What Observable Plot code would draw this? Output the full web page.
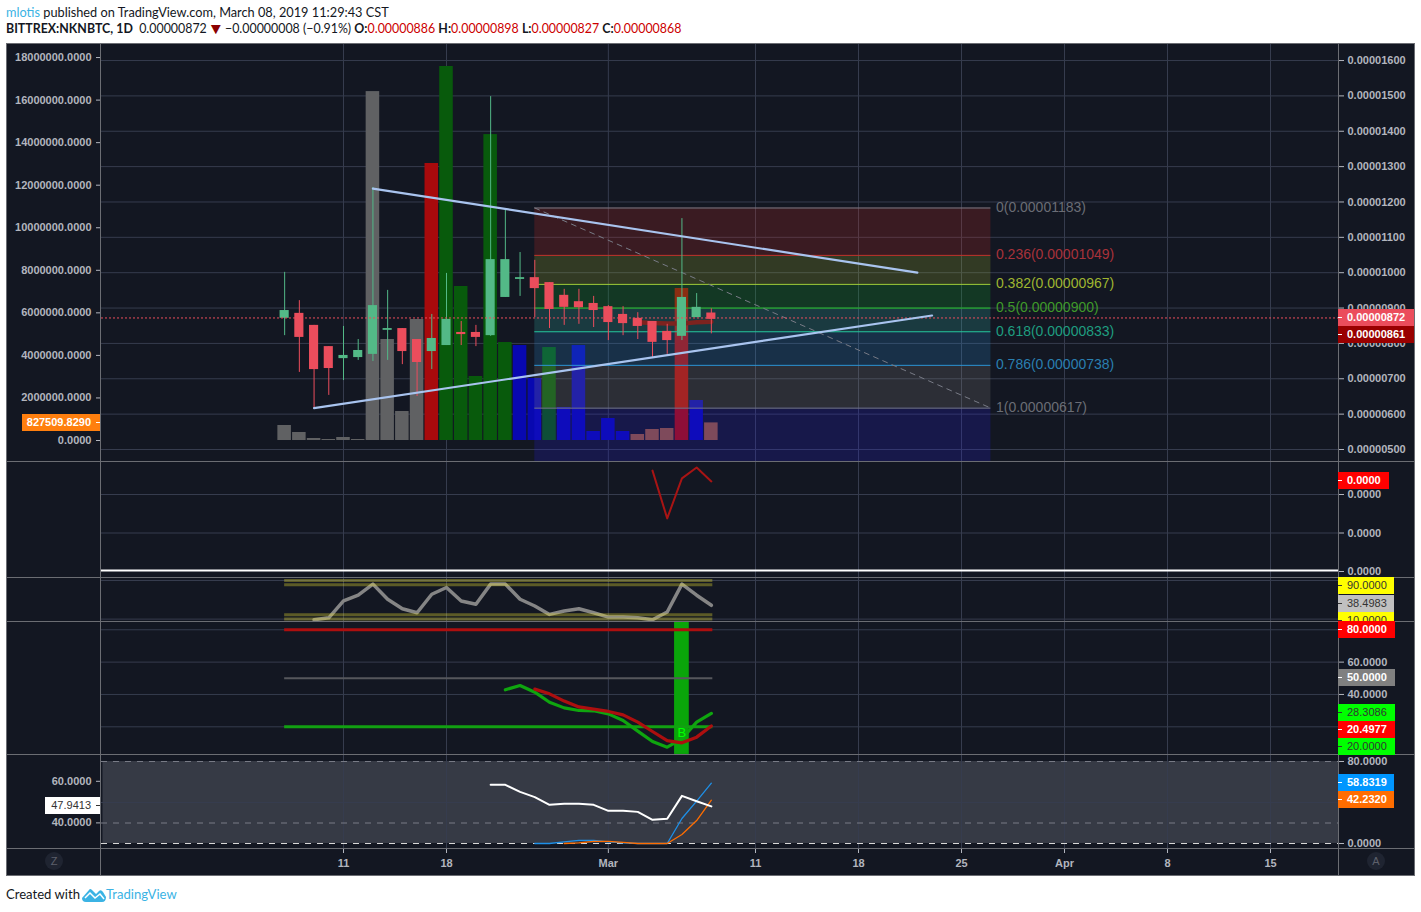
<!DOCTYPE html>
<html>
<head>
<meta charset="utf-8">
<script src="https://cdn.jsdelivr.net/npm/d3@7"></script>
<script src="https://cdn.jsdelivr.net/npm/@observablehq/plot@0.6"></script>
<style>
html,body{margin:0;padding:0;background:#fff;width:1421px;height:912px;overflow:hidden}
#root{position:absolute;left:0;top:0;width:1421px;height:912px}
.hdr{position:absolute;left:6px;font-family:Lato,"Open Sans",sans-serif;font-size:12.75px;white-space:nowrap;color:#131722;line-height:16px}
.badge{position:absolute;height:17px;box-sizing:border-box;white-space:nowrap}
.line{position:absolute;background:#6b6d73}
.circle{position:absolute;width:18px;height:18px;border-radius:9px;background:#1f2431;color:#5d606b;font:11px/18px "Liberation Sans",Arial,sans-serif;text-align:center}
</style>
</head>
<body>
<div id="root"></div>
<script>
// ---------- data ----------
const firstDay = Date.UTC(2019,1,7);
const dayMs = 864e5;
const tickDays = ["2019-02-11","2019-02-18","2019-03-01","2019-03-11","2019-03-18","2019-03-25","2019-04-01","2019-04-08","2019-04-15"];
// candles, in 1e-8 BTC, one per day from 7 Feb
const opens  = [871,885,851,791,757,760,769,837,842,811,777,794,831,831,822,930,981,986,972,936,918,913,904,882,871,862,834,820,873,886];
const closes = [893,817,726,729,766,780,907,842,777,746,814,868,825,817,1037,1037,986,955,896,902,901,893,859,856,848,803,808,930,902,868];
const highs  = [1001,921,851,791,848,811,1241,950,842,811,882,998,862,851,1498,1181,1057,1035,972,953,953,933,907,904,887,862,854,1153,941,898];
const lows   = [822,718,617,653,695,752,749,752,740,650,726,794,794,791,820,930,933,873,842,851,854,845,808,822,811,760,769,808,873,827];
// volume in millions
const volumes = [0.705,0.376,0.094,0.047,0.141,0.047,16.40,4.747,1.363,5.687,13.02,17.58,7.239,3.008,14.38,4.606,4.465,2.914,4.371,1.551,4.465,0.423,1.034,0.423,0.282,0.517,0.564,7.145,1.880,0.8275];
const volumeKinds = ["n","n","n","n","n","n","n","n","n","n","r","g","g","g","g","g","b","b","g","b","b","b","b","b","o","o","o","r","b","o"];
const volumeColors = {n:"#606163",r:"#a80a0c",g:"#085a0c",b:"#0808b0",o:"#945538"};
const priceTicks = [500,600,700,800,900,1000,1100,1200,1300,1400,1500,1600];
const volumeTicks = [0,2,4,6,8,10,12,14,16,18];
const fibRatios = ["0","0.236","0.382","0.5","0.618","0.786","1"];
const fibPrices = [1183,1049,967,900,833,738,617];
const fibLineColors = ["#787b86","#c4302b","#a4cf38","#22c41f","#26c99c","#2a96d8","#787b86"];
const fibTextColors = ["#6a6d75","#a8323a","#9fb530","#3f9a2a","#1f9e80","#2a7fb0","#6a6d75"];
const fibFillColors = ["#d62b22","#aec62c","#14bc2c","#36c6b8","#2c94e0","#908a86","#2a20ea"];
const upperTrendDates = ["2019-02-13","2019-03-22"], upperTrendPrices = [1238,1000];
const lowerTrendDates = ["2019-02-09","2019-03-23"], lowerTrendPrices = [617,879];
const emaDates = ["2019-03-03","2019-03-04","2019-03-05","2019-03-06","2019-03-07","2019-03-08"];
const emaValues = [860,858,856,856,860,861];
const osc1Dates = ["2019-03-04","2019-03-05","2019-03-06","2019-03-07","2019-03-08"];
const osc1Values = [2.62,1.38,2.42,2.70,2.34];
// pane 3, from 9 Feb
const stochValues = [8.4,13.1,52.4,65.7,91.6,56.3,34.3,24.9,68,83.7,52.4,44.5,91.6,91.6,56.3,40.6,21,28.8,34.3,24.9,14.7,14.7,13.1,8.4,26.5,91.6,65.7,42.2];
const stochBands = [100,90,20,10];
// pane 4
const rsiValues = [42.9,45.5,41.4,35.2,31.7,30.1,29.9,28,23.9,17.3,10.9,7.4,12.6,22.9,28.3];   // from 22 Feb
const signalValues = [43.3,40.4,35.9,32.3,30.9,29.5,27.4,22.9,17.1,11.5,10.1,13.6,20.5];       // from 24 Feb
// pane 5
const whiteValues = [58.3,58.3,54.9,52.4,48.7,49.2,49.2,48.7,45.8,45.8,45.3,41.5,42,53,50.4,47.94]; // from 21 Feb
const blueValues = [0,0,1.6,3,3,1.6,0.6,0,0,0,24.4,41.3,58.83];     // from 24 Feb
const orangeValues = [0,0.6,2,2,1,0,0,0,8.8,22.4,42.23];             // from 26 Feb

// ---------- helpers ----------
const root = document.getElementById("root");
const pxPerDay = 721/49;
const anchor = Date.UTC(2019,1,11);
const xDomain = [new Date(anchor - 242/pxPerDay*dayMs), new Date(anchor + 995/pxPerDay*dayMs)];
const dt = s => new Date(s + "T00:00:00Z");
const shift = (d,w) => new Date(+d + w*dayMs);
const seq = (startStr, values) => values.map((v,i)=>({date:shift(dt(startStr),i), v}));
const dayAt = i => new Date(firstDay + i*dayMs);
const tickDates = tickDays.map(dt);
const GRID = "#363c4e", AXIS = "#b2b5be";
const FONT = '"Liberation Sans",Arial,sans-serif';

function layer(top, bottom, yDomain, marks){
  const p = Plot.plot({
    width:1421, height:bottom-top, marginTop:0, marginBottom:0, marginLeft:101, marginRight:83,
    x:{type:"utc", domain:xDomain, axis:null},
    y:{domain:yDomain, axis:null},
    style:{background:"transparent", color:AXIS, fontFamily:FONT, fontSize:"11px", fontWeight:"bold", overflow:"visible", maxWidth:"none"},
    marks
  });
  p.style.position="absolute"; p.style.left="0"; p.style.top=top+"px";
  p.style.pointerEvents="none";
  p.dataset.top = top;
  root.append(p);
  return p;
}
const gridV = () => Plot.gridX(tickDates,{stroke:GRID,strokeOpacity:1});
const gridH = t => Plot.gridY(t,{stroke:GRID,strokeOpacity:1});
const axisR = (t,f) => Plot.axisY(t,{anchor:"right",tickSize:5,tickPadding:4,tickFormat:f,label:null});
const axisL = (t,f) => Plot.axisY(t,{anchor:"left",tickSize:5,tickPadding:5,tickFormat:f,label:null});
const fromDay = dayAt(0), toDay = dayAt(29);
const hRule = (vals,o) => Plot.ruleY(vals,{x1:()=>shift(fromDay,0),x2:()=>shift(toDay,0.1),...o});

function badge(plot, value, text, bg, fg, side, edge, nudge=0){
  const cy = +plot.dataset.top + plot.scale("y").apply(value) + nudge;
  const el = document.createElement("div");
  el.className = "badge";
  el.textContent = text;
  el.style.font = `${fg==="#fff"?"bold":"normal"} 11px/17px ${FONT}`;
  el.style.top = Math.round(cy-8.5)+"px";
  el.style.background = bg; el.style.color = fg;
  if(side==="r"){ el.style.left="1338px"; el.style.width=(edge-1338)+"px"; el.style.paddingLeft="9px"; }
  else { el.style.left=edge+"px"; el.style.width=(100-edge)+"px"; el.style.textAlign="right"; el.style.paddingRight="9px"; }
  root.append(el);
  const t = document.createElement("div");
  t.style.cssText=`position:absolute;top:8px;height:1px;width:4px;background:${fg};${side==="r"?"left:0":"right:0"}`;
  el.append(t);
}
function rule(l,t,w,h){ const e=document.createElement("div"); e.className="line";
  e.style.cssText=`left:${l}px;top:${t}px;width:${w}px;height:${h}px`; root.append(e); }

// ---------- chart background ----------
const bg = document.createElement("div");
bg.style.cssText="position:absolute;left:6px;top:43px;width:1409px;height:833px;background:#131722";
root.append(bg);

// header
root.insertAdjacentHTML("beforeend",`
<div class="hdr" style="top:4px"><span style="color:#3bb3e4">mlotis</span> published on TradingView.com, March 08, 2019 11:29:43 CST</div>
<div class="hdr" style="top:21px;font-size:12.4px"><b>BITTREX:NKNBTC, 1D</b>&nbsp; 0.00000872 <span style="color:#8b0000;font-size:12px;display:inline-block;transform:scale(1.4,1.3)">&#9660;</span> &#8722;0.00000008 (&#8722;0.91%) <b>O:</b><span style="color:#c00">0.00000886</span> <b>H:</b><span style="color:#c00">0.00000898</span> <b>L:</b><span style="color:#c00">0.00000827</span> <b>C:</b><span style="color:#c00">0.00000868</span></div>
<div class="hdr" style="top:886px;font-size:13.1px">Created with</div>
<svg style="position:absolute;left:82px;top:887px" width="24" height="15" viewBox="0 0 24 15"><path d="M0 11 L7 3 Q8 1 10 3 L14 7 L17 4 Q19 2 21 5 L24 10 Q24 15 20 15 L4 15 Q0 15 0 11Z" fill="#3bb3e4"/><path d="M3 11 L8 6 L13 11 L18 7 L22 12" fill="none" stroke="#fff" stroke-width="1.5"/></svg>
<div class="hdr" style="top:886px;left:106px;font-size:13.1px;color:#3bb3e4">TradingView</div>
`);

// ---------- pane 1: grid + price axis ----------
const priceDomain = [500-12/0.3536, 500+405/0.3536];
const priceFmt = v => (v/1e8).toFixed(8);
layer(44,461,priceDomain,[
  gridV(), gridH(priceTicks), axisR(priceTicks,priceFmt)
]);
// volume
const volRows = volumes.map((v,i)=>({date:dayAt(i),v,c:volumeColors[volumeKinds[i]]}));
const p1vol = layer(44,461,[-21/21.275,396/21.275],[
  axisL(volumeTicks,v=>(v*1e6).toFixed(4)),
  Plot.rect(volRows,{x1:d=>shift(d.date,-0.46),x2:d=>shift(d.date,0.46),y1:()=>0,y2:"v",fill:"c"})
]);
// price
const fibRows = fibPrices.map((p,i)=>({
  top:p, bottom:i<fibPrices.length-1?fibPrices[i+1]:priceDomain[0], fill:fibFillColors[i], line:fibLineColors[i], text:fibTextColors[i],
  label:`${fibRatios[i]}(${(p/1e8).toFixed(8)})`
}));
const fibStart = dt("2019-02-24"), fibEnd = dt("2019-03-27");
const candleRows = opens.map((o,i)=>({date:dayAt(i),o,c:closes[i],h:highs[i],l:lows[i],col:closes[i]>=o?"#53b987":"#eb4d5c"}));
const trend = (ds,vs)=>ds.map((d,i)=>({date:dt(d),v:vs[i]}));
const p1 = layer(44,461,priceDomain,[
  Plot.rect(fibRows,{x1:()=>fibStart,x2:()=>fibEnd,y1:"bottom",y2:"top",fill:"fill",fillOpacity:0.2}),
  Plot.ruleY(fibRows,{y:"top",x1:()=>fibStart,x2:()=>fibEnd,stroke:"line",strokeWidth:1}),
  Plot.line([{d:fibStart,v:fibPrices[0]},{d:fibEnd,v:fibPrices[6]}],{x:"d",y:"v",stroke:"#787b86",strokeWidth:1,strokeDasharray:"5 5"}),
  Plot.text(fibRows,{x:()=>fibEnd,y:"top",text:"label",fill:"text",dx:5,dy:-0.5,textAnchor:"start",fontSize:14,fontWeight:"normal",fontFamily:FONT}),
  Plot.line(seq(emaDates[0],emaValues),{x:"date",y:"v",stroke:"#7d231f",strokeWidth:4.5}),
  Plot.ruleX(candleRows,{x:"date",y1:"l",y2:"h",stroke:"col",strokeWidth:1}),
  Plot.rect(candleRows,{x1:d=>shift(d.date,-0.31),x2:d=>shift(d.date,0.31),y1:"o",y2:"c",fill:"col"}),
  Plot.ruleY([872],{stroke:"#eb4d5c",strokeWidth:1,strokeDasharray:"2 2"}),
  Plot.line(trend(upperTrendDates,upperTrendPrices),{x:"date",y:"v",stroke:"#a9c4ef",strokeWidth:2.2}),
  Plot.line(trend(lowerTrendDates,lowerTrendPrices),{x:"date",y:"v",stroke:"#a9c4ef",strokeWidth:2.2})
]);

// ---------- pane 2 ----------
const p2 = layer(461,577,[-6/38.5,110/38.5],[
  gridV(), gridH([1,2]), axisR([0,1,2],()=>"0.0000"),
  Plot.ruleY([0],{stroke:"#fff",strokeWidth:2,dy:-1}),
  Plot.line(seq(osc1Dates[0],osc1Values),{x:"date",y:"v",stroke:"#a81414",strokeWidth:2})
]);

// ---------- pane 3 ----------
const p3 = layer(577,621,[90-(621-584.3)/0.429,90+(584.3-577)/0.429],[
  gridV(), gridH([100,10]),
  Plot.line(seq("2019-02-09",stochValues),{x:"date",y:"v",stroke:"#858585",strokeWidth:3.5}),
  hRule(stochBands,{stroke:"#f3e834",strokeOpacity:0.33,strokeWidth:3})
]);

// ---------- pane 4 ----------
const sigDay = dt("2019-03-06");
const p4 = layer(621,754,[20-(754-726.3)/1.617,20+(726.3-621)/1.617],[
  gridV(), gridH([80,60,40,20]), axisR([60,40],v=>v.toFixed(4)),
  Plot.rect([sigDay],{x1:d=>shift(d,-0.5),x2:d=>shift(d,0.5),y1:()=>2.9,y2:()=>85.2,fill:"#0aa50a"}),
  hRule([80],{stroke:"#ad0f0f",strokeWidth:3}),
  hRule([50],{stroke:"#56575c",strokeWidth:2}),
  hRule([20],{stroke:"#12a012",strokeWidth:3}),
  Plot.line(seq("2019-02-22",rsiValues),{x:"date",y:"v",stroke:"#0fa50f",strokeWidth:3.2}),
  Plot.line(seq("2019-02-24",signalValues),{x:"date",y:"v",stroke:"#ad0f0f",strokeWidth:3.2}),
  Plot.text([sigDay],{x:d=>d,y:()=>16.4,text:()=>"B",fill:"#00ff00",fontSize:13,fontWeight:"normal",fontFamily:FONT})
]);

// ---------- pane 5 (two scales) ----------
const p5r = layer(754,849,[-6/1.025,89/1.025],[
  Plot.rect([0],{x1:()=>shift(xDomain[0],0.1),x2:()=>xDomain[1],y1:()=>0,y2:()=>80,fill:"#363a45"}),
  gridV(), gridH([40]), axisR([80,0],v=>v.toFixed(4)),
  Plot.ruleY([80,20],{stroke:"#787b86",strokeDasharray:"6 6"}),
  Plot.ruleY([0],{stroke:"#d8d8d8",strokeDasharray:"6 6"}),
  Plot.line(seq("2019-02-24",blueValues),{x:"date",y:"v",stroke:"#1e90e8",strokeWidth:1.3}),
  Plot.line(seq("2019-02-26",orangeValues),{x:"date",y:"v",stroke:"#ff6d00",strokeWidth:1.3})
]);
const p5l = layer(754,849,[60-(849-780.8)/2.08,60+(780.8-754)/2.08],[
  axisL([60,40],v=>v.toFixed(4)),
  Plot.line(seq("2019-02-21",whiteValues),{x:"date",y:"v",stroke:"#ffffff",strokeWidth:2})
]);

// ---------- time axis ----------
const months = ["Jan","Feb","Mar","Apr"];
const dayLabel = d => d.getUTCDate()===1 ? months[d.getUTCMonth()] : String(d.getUTCDate());
layer(849,876,[0,27],[
  Plot.ruleX(tickDates,{x:d=>d,y1:()=>27,y2:()=>23,stroke:AXIS}),
  Plot.text(tickDates,{x:d=>d,y:()=>13,text:dayLabel,fill:AXIS,fontSize:11,fontWeight:"bold",fontFamily:FONT})
]);

// ---------- frame ----------
rule(6,43,1409,1); rule(6,875,1409,1); rule(6,43,1,833); rule(1414,43,1,833);
rule(100,43,1,833); rule(1338,43,1,833);
[461,577,621,754,848].forEach(y=>rule(6,y,1409,1));
root.insertAdjacentHTML("beforeend",`<div class="circle" style="left:45px;top:852px">Z</div><div class="circle" style="left:1367px;top:852px">A</div>`);

// ---------- value badges ----------
badge(p1,872,"0.00000872","#eb4d5c","#fff","r",1414);
badge(p1,861,"0.00000861","#990000","#fff","r",1414,13);
badge(p1vol,0.8275,"827509.8290","#ff7f0e","#fff","l",22);
badge(p2,2.34,"0.0000","#ff0000","#fff","r",1389);
badge(p3,90,"90.0000","#ffff00","#333","r",1394,1);
badge(p3,10,"10.0000","#ffff00","#333","r",1394,2);
badge(p3,38.4983,"38.4983","#c0c0c0","#333","r",1394,-2.5);
badge(p4,80,"80.0000","#ff0000","#fff","r",1395);
badge(p4,50,"50.0000","#808080","#fff","r",1395);
badge(p4,28.3086,"28.3086","#00ff00","#333","r",1395);
badge(p4,20.4977,"20.4977","#ff0000","#fff","r",1395,4);
badge(p4,20,"20.0000","#00ff00","#333","r",1395,20);
badge(p5r,58.83,"58.8319","#0096ff","#fff","r",1394);
badge(p5r,42.23,"42.2320","#ff6d00","#fff","r",1394);
badge(p5l,47.94,"47.9413","#ffffff","#333","l",45);
</script>
</body>
</html>
